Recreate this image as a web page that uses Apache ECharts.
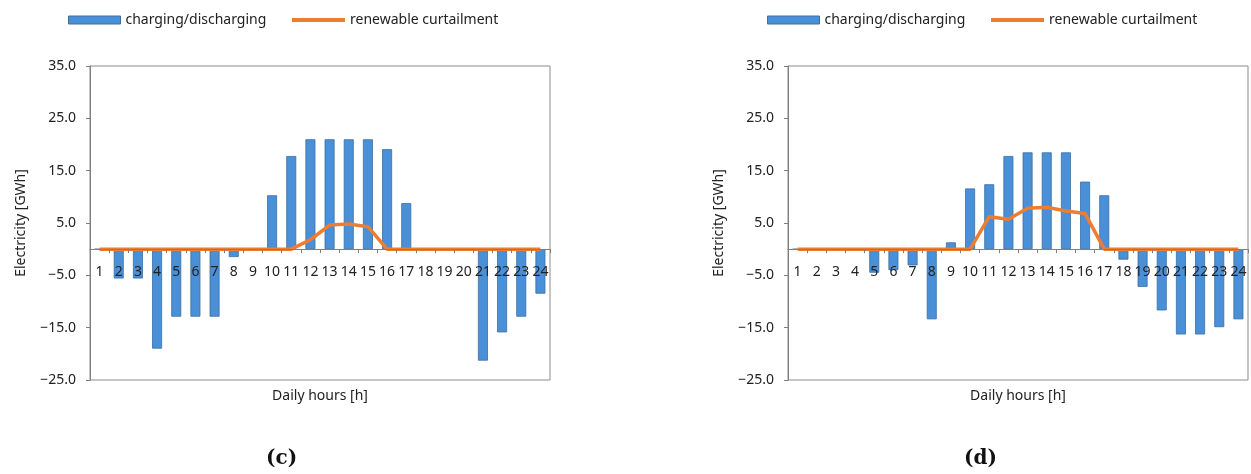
<!DOCTYPE html>
<html>
    <head>
        <meta charset="utf-8">
        <script src="https://cdn.jsdelivr.net/npm/echarts@6/dist/echarts.min.js"></script>
    </head>
    <body style="margin:0">
        <style>
            html, body, #main {
                width: 1251px;
                height: 474px;
                background: #fff;
            }
        </style>
        <div id="main"></div>
        <script>
            var hours = ['1','2','3','4','5','6','7','8','9','10','11','12',
                         '13','14','15','16','17','18','19','20','21','22','23','24'];
            var yTicks = [-25, -15, -5, 5, 15, 25, 35];

            // panel (c)
            var chargeC = [0, -5.6, -5.6, -19.0, -12.9, -12.9, -12.9, -1.5, 0, 10.3, 17.8, 21.0,
                           21.0, 21.0, 21.0, 19.1, 8.8, -0.3, 0, 0, -21.3, -15.9, -12.9, -8.5];
            var curtailC = [0, 0, 0, 0, 0, 0, 0, 0, 0, 0, 0, 1.8,
                            4.6, 4.8, 4.3, 0, 0, 0, 0, 0, 0, 0, 0, 0];
            // panel (d)
            var chargeD = [0, 0, 0, 0, -4.5, -4.0, -3.1, -13.4, 1.3, 11.6, 12.4, 17.8,
                           18.5, 18.5, 18.5, 12.9, 10.3, -2.0, -7.2, -11.7, -16.3, -16.3, -14.9, -13.4];
            var curtailD = [0, 0, 0, 0, 0, 0, 0, 0, 0, 0, 6.2, 5.7,
                            7.8, 8.0, 7.3, 6.8, 0, 0, 0, 0, 0, 0, 0, 0];

            var FONT = 'Noto Sans';
            var BLUE = '#4a90d9';
            var ORANGE = '#ed7d31';
            var GRID_TOP = 66, GRID_H = 314;
            // distance from bottom of plot up to the zero line
            var ZERO_UP = GRID_H * 25 / 60;

            function fmt(v) {
                return v.toFixed(1).replace('-', '\u2212');
            }

            function xAxisFor(idx) {
                return {
                    type: 'category',
                    gridIndex: idx,
                    data: hours,
                    position: 'bottom',
                    offset: -ZERO_UP,
                    z: 5,
                    name: 'Daily hours [h]',
                    nameLocation: 'middle',
                    nameGap: 140,
                    nameTextStyle: { fontFamily: FONT, fontSize: 14, color: '#222', verticalAlign: 'top' },
                    axisLine: { onZero: false, lineStyle: { color: '#7f7f7f', width: 1 } },
                    axisTick: { show: true, length: 4, lineStyle: { color: '#7f7f7f' } },
                    axisLabel: { interval: 0, margin: 16, fontFamily: FONT, fontSize: 14, color: '#222' }
                };
            }

            function yAxisFor(idx) {
                return {
                    type: 'value',
                    gridIndex: idx,
                    min: -25,
                    max: 35,
                    interval: 5,
                    name: 'Electricity [GWh]',
                    nameLocation: 'middle',
                    nameGap: 62,
                    nameTextStyle: { fontFamily: FONT, fontSize: 14, color: '#222' },
                    splitLine: { show: false },
                    axisLine: { show: true, lineStyle: { color: '#7f7f7f' } },
                    axisTick: { show: true, length: 4, customValues: yTicks, lineStyle: { color: '#7f7f7f' } },
                    axisLabel: { customValues: yTicks, margin: 14, fontFamily: FONT, fontSize: 14, color: '#222', formatter: fmt }
                };
            }

            function legendsFor(left) {
                var text = { fontFamily: FONT, fontSize: 14, color: '#222' };
                return [{
                    left: left,
                    top: 13,
                    padding: 0,
                    icon: 'rect',
                    itemWidth: 52,
                    itemHeight: 8,
                    itemStyle: { borderColor: '#3a6f9f', borderWidth: 1 },
                    textStyle: text,
                    data: ['charging/discharging']
                }, {
                    left: left + 224,
                    top: 13,
                    padding: 0,
                    icon: 'rect',
                    itemWidth: 53,
                    itemHeight: 4,
                    textStyle: text,
                    data: ['renewable curtailment']
                }];
            }

            function panelTitle(letter, left) {
                return {
                    text: '{p|(}{b|' + letter + '}{p|)}',
                    left: left,
                    top: 449,
                    padding: 0,
                    textStyle: {
                        rich: {
                            p: { fontFamily: 'DejaVu Serif', fontSize: 20, color: '#111' },
                            b: { fontFamily: 'DejaVu Serif', fontSize: 20, fontWeight: 'bold', color: '#111' }
                        }
                    }
                };
            }

            function barSeries(idx, values) {
                return {
                    name: 'charging/discharging',
                    type: 'bar',
                    xAxisIndex: idx,
                    yAxisIndex: idx,
                    data: values,
                    barWidth: '52%',
                    itemStyle: { color: BLUE, borderColor: '#3a6f9f', borderWidth: 0.8 }
                };
            }

            function lineSeries(idx, values) {
                return {
                    name: 'renewable curtailment',
                    type: 'line',
                    xAxisIndex: idx,
                    yAxisIndex: idx,
                    data: values,
                    symbol: 'none',
                    lineStyle: { color: ORANGE, width: 3.5 },
                    itemStyle: { color: ORANGE }
                };
            }

            var chart = echarts.init(document.getElementById('main'));
            var gridBase = {
                top: GRID_TOP, width: 460, height: GRID_H,
                show: true, borderColor: '#8c8c8c', borderWidth: 1,
                containLabel: false, outerBoundsMode: 'none'
            };
            chart.setOption({
                animation: false,
                backgroundColor: '#fff',
                title: [panelTitle('c', 266), panelTitle('d', 964)],
                legend: legendsFor(68).concat(legendsFor(767)),
                grid: [
                    Object.assign({ left: 90 }, gridBase),
                    Object.assign({ left: 788 }, gridBase)
                ],
                xAxis: [xAxisFor(0), xAxisFor(1)],
                yAxis: [yAxisFor(0), yAxisFor(1)],
                series: [
                    barSeries(0, chargeC), lineSeries(0, curtailC),
                    barSeries(1, chargeD), lineSeries(1, curtailD)
                ]
            });
        </script>
    </body>
</html>
